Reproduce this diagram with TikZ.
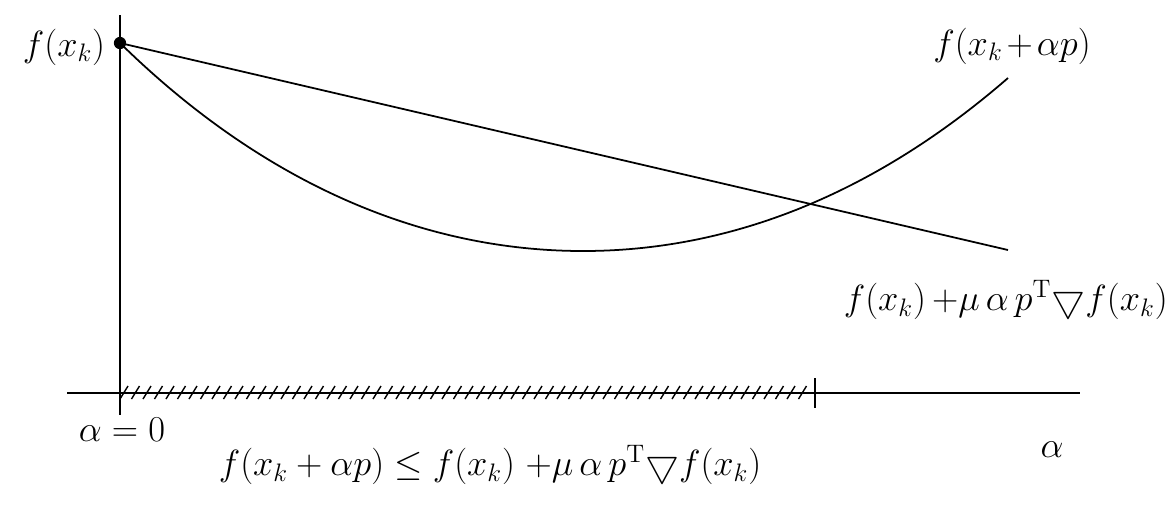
\documentclass[tikz,border=0pt]{standalone}
\usepackage{amsmath}
\usepackage{amssymb}
\usepackage{tikz}
\usetikzlibrary{arrows.meta, positioning, calc}

\newcommand{\gradsym}{\mathord{\raisebox{-0.05ex}{\scalebox{1.05}{$\bigtriangledown$}}}}

\begin{document}
\begin{tikzpicture}[
  x=0.02cm, y=0.02cm,
  curve/.style={line width=1pt, black},
  axis/.style={line width=0.9pt, black},
  lbl/.style={font=\fontsize{20}{24}\selectfont, inner sep=0pt},
  dotnode/.style={circle, fill=black, inner sep=0pt, minimum size=7pt}
]
\useasboundingbox (0,0) rectangle (1175,-505);

% axes
\coordinate (ytop) at (120,-15);
\coordinate (ybot) at (120,-415);
\coordinate (xleft) at (67,-393);
\coordinate (xright) at (1080,-393);
\draw[axis] (ytop) -- (ybot);
\draw[axis] (xleft) -- (xright);

% start point, sufficient decrease line, function
\node[dotnode] (fxk) at (120,-43) {};
\coordinate (lineend) at (1008,-250);
\coordinate (bottom) at (583,-251);
\coordinate (curveend) at (1008,-78);
\draw[curve] (fxk.center) -- (lineend);
\draw[curve] (fxk.center) .. controls (268,-188) and (428,-251) .. (bottom)
  .. controls (728,-251) and (872,-196) .. (curveend);

% accepted steps
\foreach \h in {124,135.5,...,808} {
  \draw[line width=0.8pt] (\h-4,-399) -- (\h+4,-386);
}
\coordinate (tickup) at (815,-378);
\coordinate (tickdn) at (815,-408);
\draw[line width=1.2pt] (tickup) -- (tickdn);

% labels
\node[lbl] (lfx) at (64,-47) {$f(x_k)$};
\node[lbl] (lcurve) at (1012,-46) {$f(x_k\mkern-2mu+\mkern-2mu\alpha p)$};
\node[lbl, anchor=east] (lline) at (1168,-300) {$f(x_k)\,{+}\mu\,\alpha\,p^{\mathrm{T}}\gradsym f(x_k)$};
\node[lbl] (lzero) at (122,-430) {$\alpha = 0$};
\node[lbl] (lalpha) at (1052,-450) {$\alpha$};
\node[lbl] (lcond) at (490,-465) {$f(x_k + \alpha p) \le f(x_k)\ {+}\mu\,\alpha\,p^{\mathrm{T}}\gradsym f(x_k)$};

\end{tikzpicture}
\end{document}
